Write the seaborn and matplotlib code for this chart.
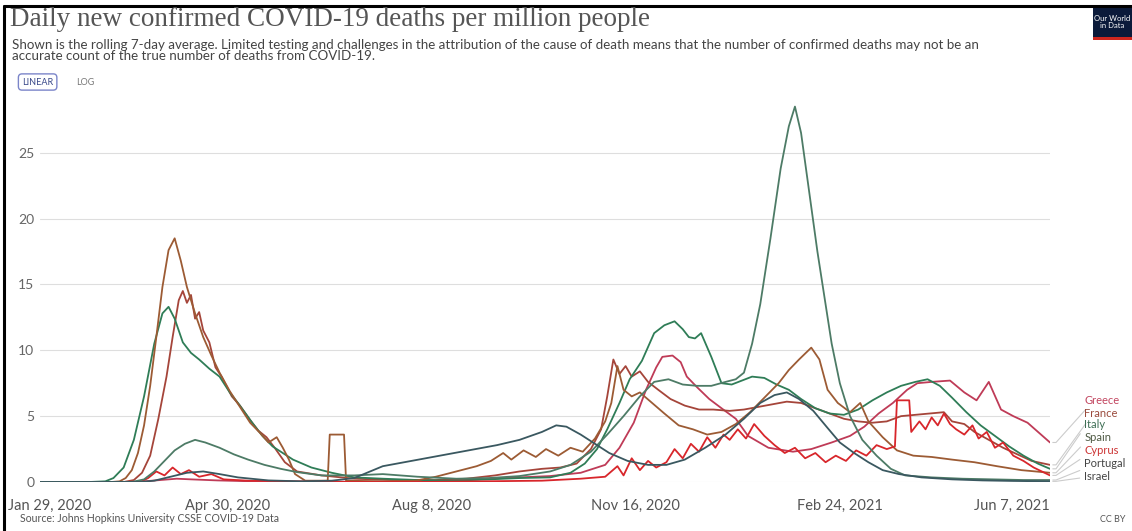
import pandas as pd
import seaborn as sns
import matplotlib.pyplot as plt
from matplotlib.lines import Line2D
from matplotlib.patches import Rectangle
from matplotlib.transforms import ScaledTranslation

# --- data: 7-day rolling average, daily new confirmed deaths per million ---
italy_dates = ["2020-01-29", "2020-02-22", "2020-03-01", "2020-03-05", "2020-03-10", "2020-03-15",
               "2020-03-20", "2020-03-25", "2020-03-29", "2020-04-01", "2020-04-04", "2020-04-08",
               "2020-04-12", "2020-04-16", "2020-04-21", "2020-04-26", "2020-05-01", "2020-05-05",
               "2020-05-12", "2020-05-17", "2020-05-22", "2020-06-01", "2020-06-10", "2020-06-20",
               "2020-07-01", "2020-07-15", "2020-08-01", "2020-08-20", "2020-09-05", "2020-09-20",
               "2020-10-05", "2020-10-15", "2020-10-22", "2020-10-28", "2020-11-02", "2020-11-08",
               "2020-11-13", "2020-11-19", "2020-11-25", "2020-11-30", "2020-12-05", "2020-12-09",
               "2020-12-12", "2020-12-15", "2020-12-18", "2020-12-23", "2020-12-28", "2021-01-02",
               "2021-01-07", "2021-01-12", "2021-01-18", "2021-01-24", "2021-01-30", "2021-02-05",
               "2021-02-12", "2021-02-19", "2021-02-26", "2021-03-05", "2021-03-12", "2021-03-19",
               "2021-03-26", "2021-04-02", "2021-04-08", "2021-04-14", "2021-04-20", "2021-04-27",
               "2021-05-04", "2021-05-11", "2021-05-18", "2021-05-25", "2021-06-01", "2021-06-07"]
italy_vals = [0, 0, 0.05, 0.3, 1.1, 3.2,
              6.5, 10.5, 12.8, 13.3, 12.4, 10.6,
              9.8, 9.3, 8.6, 8.0, 6.8, 6.0,
              4.5, 3.5, 2.7, 1.7, 1.1, 0.7,
              0.35, 0.25, 0.15, 0.1, 0.2, 0.3,
              0.35, 0.7, 1.4, 2.5, 4.0, 6.0,
              7.8, 9.2, 11.3, 11.9, 12.2, 11.6,
              11.0, 10.9, 11.3, 9.5, 7.5, 7.4,
              7.7, 8.0, 7.9, 7.4, 7.0, 6.3,
              5.6, 5.2, 5.1, 5.5, 6.2, 6.8,
              7.3, 7.6, 7.8, 7.3, 6.4, 5.3,
              4.3, 3.5, 2.7, 2.0, 1.4, 1.0]

portugal_dates = ["2020-01-29", "2020-03-14", "2020-03-20", "2020-03-25", "2020-03-30", "2020-04-04",
                  "2020-04-09", "2020-04-14", "2020-04-19", "2020-04-26", "2020-05-03", "2020-05-10",
                  "2020-05-18", "2020-05-26", "2020-06-03", "2020-06-15", "2020-07-01", "2020-07-15",
                  "2020-08-01", "2020-08-20", "2020-09-05", "2020-09-20", "2020-10-05", "2020-10-15",
                  "2020-10-25", "2020-11-02", "2020-11-10", "2020-11-18", "2020-11-25", "2020-12-02",
                  "2020-12-09", "2020-12-16", "2020-12-23", "2020-12-30", "2021-01-04", "2021-01-08",
                  "2021-01-12", "2021-01-16", "2021-01-21", "2021-01-26", "2021-01-30", "2021-02-02",
                  "2021-02-05", "2021-02-09", "2021-02-13", "2021-02-16", "2021-02-20", "2021-02-24",
                  "2021-03-01", "2021-03-07", "2021-03-14", "2021-03-21", "2021-03-28", "2021-04-10",
                  "2021-04-25", "2021-05-10", "2021-05-25", "2021-06-07"]
portugal_vals = [0, 0, 0.2, 0.8, 1.6, 2.4,
                 2.9, 3.2, 3.0, 2.6, 2.1, 1.7,
                 1.3, 1.0, 0.75, 0.5, 0.5, 0.6,
                 0.4, 0.25, 0.3, 0.45, 0.8, 1.3,
                 2.3, 3.6, 5.0, 6.5, 7.6, 7.8,
                 7.4, 7.3, 7.3, 7.6, 7.8, 8.3,
                 10.5, 13.5, 18.5, 23.8, 27.0, 28.5,
                 26.5, 22.0, 17.5, 14.5, 10.5, 7.5,
                 5.0, 3.2, 2.0, 1.0, 0.5, 0.35,
                 0.25, 0.2, 0.15, 0.15]

spain_dates = ["2020-01-29", "2020-03-04", "2020-03-08", "2020-03-11", "2020-03-14", "2020-03-17",
               "2020-03-20", "2020-03-23", "2020-03-26", "2020-03-29", "2020-04-01", "2020-04-04",
               "2020-04-07", "2020-04-10", "2020-04-14", "2020-04-18", "2020-04-22", "2020-04-26",
               "2020-05-01", "2020-05-06", "2020-05-11", "2020-05-16", "2020-05-20", "2020-05-24",
               "2020-05-27", "2020-05-30", "2020-06-02", "2020-06-07", "2020-06-18", "2020-06-19",
               "2020-06-26", "2020-06-27", "2020-07-15", "2020-07-31", "2020-08-10", "2020-08-20",
               "2020-08-30", "2020-09-06", "2020-09-12", "2020-09-16", "2020-09-22", "2020-09-28",
               "2020-10-03", "2020-10-09", "2020-10-15", "2020-10-21", "2020-10-27", "2020-11-01",
               "2020-11-04", "2020-11-07", "2020-11-10", "2020-11-14", "2020-11-18", "2020-11-24",
               "2020-11-30", "2020-12-07", "2020-12-14", "2020-12-21", "2020-12-28", "2021-01-04",
               "2021-01-11", "2021-01-18", "2021-01-25", "2021-01-30", "2021-02-04", "2021-02-10",
               "2021-02-14", "2021-02-18", "2021-02-23", "2021-03-01", "2021-03-06", "2021-03-10",
               "2021-03-17", "2021-03-24", "2021-04-01", "2021-04-10", "2021-04-20", "2021-05-01",
               "2021-05-12", "2021-05-24", "2021-06-07"]
spain_vals = [0, 0, 0.05, 0.3, 0.9, 2.2,
              4.3, 7.3, 11.0, 14.8, 17.6, 18.5,
              16.8, 14.8, 12.8, 11.0, 9.6, 8.3,
              6.9, 5.7, 4.5, 3.7, 3.0, 3.4,
              2.6, 1.7, 0.6, 0.1, 0.1, 3.6,
              3.6, 0.1, 0.05, 0.1, 0.4, 0.8,
              1.2, 1.6, 2.2, 1.7, 2.4, 1.9,
              2.5, 2.0, 2.6, 2.3, 3.3, 4.6,
              6.0, 8.8, 7.0, 6.5, 6.8, 6.0,
              5.2, 4.3, 4.0, 3.6, 3.8, 4.4,
              5.3, 6.4, 7.5, 8.5, 9.3, 10.2,
              9.3, 7.0, 6.0, 5.3, 6.0, 4.6,
              3.4, 2.4, 2.0, 1.9, 1.7, 1.5,
              1.2, 0.9, 0.7]

france_dates = ["2020-01-29", "2020-03-10", "2020-03-15", "2020-03-19", "2020-03-23", "2020-03-27",
                "2020-03-31", "2020-04-03", "2020-04-06", "2020-04-08", "2020-04-10", "2020-04-12",
                "2020-04-14", "2020-04-16", "2020-04-18", "2020-04-21", "2020-04-24", "2020-04-27",
                "2020-05-02", "2020-05-06", "2020-05-11", "2020-05-15", "2020-05-19", "2020-05-23",
                "2020-05-28", "2020-06-03", "2020-06-15", "2020-07-01", "2020-07-20", "2020-08-10",
                "2020-08-25", "2020-09-08", "2020-09-20", "2020-10-01", "2020-10-10", "2020-10-18",
                "2020-10-25", "2020-10-30", "2020-11-02", "2020-11-05", "2020-11-08", "2020-11-11",
                "2020-11-14", "2020-11-18", "2020-11-22", "2020-11-27", "2020-12-03", "2020-12-10",
                "2020-12-17", "2020-12-24", "2021-01-01", "2021-01-08", "2021-01-15", "2021-01-22",
                "2021-01-29", "2021-02-05", "2021-02-12", "2021-02-19", "2021-02-26", "2021-03-05",
                "2021-03-12", "2021-03-19", "2021-03-26", "2021-04-02", "2021-04-09", "2021-04-16",
                "2021-04-20", "2021-04-26", "2021-05-01", "2021-05-08", "2021-05-15", "2021-05-22",
                "2021-05-29", "2021-06-07"]
france_vals = [0, 0, 0.15, 0.7, 2.0, 4.8,
               8.0, 11.0, 13.8, 14.5, 13.6, 14.2,
               12.4, 12.9, 11.5, 10.6, 8.7, 8.0,
               6.5, 5.8, 4.7, 3.9, 3.4, 2.6,
               1.5, 0.8, 0.5, 0.25, 0.15, 0.15,
               0.25, 0.5, 0.8, 1.0, 1.1, 1.4,
               2.5, 4.0, 6.5, 9.3, 8.2, 8.8,
               8.0, 8.4, 7.6, 7.0, 6.3, 5.8,
               5.5, 5.5, 5.4, 5.5, 5.7, 5.9,
               6.1, 6.0, 5.6, 5.2, 4.8, 4.6,
               4.5, 4.6, 5.0, 5.1, 5.2, 5.3,
               4.6, 4.4, 3.8, 3.2, 2.6, 2.1,
               1.6, 1.3]

greece_dates = ["2020-01-29", "2020-03-12", "2020-03-20", "2020-03-28", "2020-04-05", "2020-04-12",
                "2020-04-25", "2020-05-10", "2020-06-01", "2020-07-01", "2020-08-01", "2020-08-20",
                "2020-09-05", "2020-09-20", "2020-10-05", "2020-10-20", "2020-11-01", "2020-11-08",
                "2020-11-15", "2020-11-21", "2020-11-26", "2020-11-29", "2020-12-04", "2020-12-08",
                "2020-12-11", "2020-12-16", "2020-12-22", "2020-12-28", "2021-01-04", "2021-01-10",
                "2021-01-20", "2021-02-01", "2021-02-10", "2021-02-20", "2021-03-01", "2021-03-08",
                "2021-03-15", "2021-03-22", "2021-03-29", "2021-04-03", "2021-04-10", "2021-04-19",
                "2021-04-26", "2021-05-02", "2021-05-08", "2021-05-14", "2021-05-20", "2021-05-27",
                "2021-06-07"]
greece_vals = [0, 0, 0.05, 0.15, 0.25, 0.2,
               0.12, 0.06, 0.03, 0.02, 0.03, 0.12,
               0.25, 0.35, 0.45, 0.7, 1.3, 2.6,
               4.5, 7.0, 8.7, 9.5, 9.6, 9.1,
               8.0, 7.2, 6.3, 5.6, 4.8, 3.5,
               2.6, 2.3, 2.5, 3.0, 3.5, 4.2,
               5.2, 6.0, 7.0, 7.5, 7.6, 7.7,
               6.8, 6.2, 7.6, 5.5, 5.0, 4.5,
               3.0]

cyprus_dates = ["2020-01-29", "2020-03-18", "2020-03-22", "2020-03-26", "2020-03-30", "2020-04-03",
                "2020-04-07", "2020-04-11", "2020-04-16", "2020-04-22", "2020-04-28", "2020-05-10",
                "2020-06-01", "2020-07-01", "2020-08-01", "2020-09-01", "2020-10-01", "2020-10-20",
                "2020-11-01", "2020-11-07", "2020-11-10", "2020-11-14", "2020-11-18", "2020-11-22",
                "2020-11-26", "2020-12-01", "2020-12-05", "2020-12-09", "2020-12-13", "2020-12-17",
                "2020-12-21", "2020-12-25", "2020-12-29", "2021-01-01", "2021-01-05", "2021-01-09",
                "2021-01-13", "2021-01-18", "2021-01-23", "2021-01-28", "2021-02-02", "2021-02-07",
                "2021-02-12", "2021-02-17", "2021-02-22", "2021-02-27", "2021-03-04", "2021-03-09",
                "2021-03-14", "2021-03-19", "2021-03-23", "2021-03-24", "2021-03-30", "2021-03-31",
                "2021-04-04", "2021-04-07", "2021-04-10", "2021-04-13", "2021-04-16", "2021-04-19",
                "2021-04-22", "2021-04-26", "2021-04-30", "2021-05-03", "2021-05-07", "2021-05-11",
                "2021-05-15", "2021-05-20", "2021-05-25", "2021-05-30", "2021-06-03", "2021-06-07"]
cyprus_vals = [0, 0, 0.3, 0.8, 0.5, 1.1,
               0.6, 0.9, 0.4, 0.6, 0.2, 0.1,
               0.05, 0, 0, 0.05, 0.1, 0.25,
               0.4, 1.2, 0.5, 1.8, 0.9, 1.6,
               1.1, 1.5, 2.5, 1.8, 2.9, 2.3,
               3.4, 2.6, 3.6, 3.2, 4.0, 3.3,
               4.4, 3.5, 2.8, 2.2, 2.6, 1.8,
               2.2, 1.5, 2.0, 1.6, 2.4, 2.0,
               2.8, 2.5, 2.7, 6.2, 6.2, 3.8,
               4.6, 4.0, 4.9, 4.3, 5.2, 4.4,
               4.0, 3.6, 4.3, 3.3, 3.8, 2.6,
               3.0, 2.0, 1.6, 1.1, 0.8, 0.5]

israel_dates = ["2020-01-29", "2020-03-18", "2020-03-25", "2020-04-02", "2020-04-10", "2020-04-18",
                "2020-04-26", "2020-05-05", "2020-05-20", "2020-06-05", "2020-06-20", "2020-07-01",
                "2020-07-15", "2020-07-29", "2020-08-12", "2020-08-26", "2020-09-09", "2020-09-20",
                "2020-10-01", "2020-10-08", "2020-10-13", "2020-10-20", "2020-10-27", "2020-11-03",
                "2020-11-12", "2020-11-22", "2020-12-01", "2020-12-10", "2020-12-20", "2020-12-30",
                "2021-01-08", "2021-01-16", "2021-01-23", "2021-01-29", "2021-02-04", "2021-02-11",
                "2021-02-18", "2021-02-24", "2021-03-03", "2021-03-10", "2021-03-17", "2021-03-25",
                "2021-04-05", "2021-04-20", "2021-05-05", "2021-05-20", "2021-06-07"]
israel_vals = [0, 0, 0.1, 0.4, 0.7, 0.8,
               0.6, 0.35, 0.12, 0.05, 0.1, 0.3,
               1.2, 1.6, 2.0, 2.4, 2.8, 3.2,
               3.8, 4.3, 4.2, 3.6, 2.9, 2.2,
               1.6, 1.3, 1.3, 1.7, 2.6, 3.6,
               4.8, 6.0, 6.6, 6.8, 6.3, 5.4,
               4.1, 3.0, 2.2, 1.5, 0.9, 0.6,
               0.35, 0.2, 0.12, 0.08, 0.05]

countries = ["Greece", "France", "Italy", "Spain", "Cyprus", "Portugal", "Israel"]
colors = {"Greece": "#bf3b57", "France": "#a5453a", "Italy": "#2f7d57", "Spain": "#9c5b34",
          "Cyprus": "#d8262b", "Portugal": "#4d7b66", "Israel": "#3a5860"}
label_colors = {"Greece": "#c2455f", "France": "#9a4a3c", "Italy": "#3f6f55", "Spain": "#4f5a44",
                "Cyprus": "#cc3333", "Portugal": "#444444", "Israel": "#444444"}

tick_dates = ["2020-01-29", "2020-04-30", "2020-08-08", "2020-11-16", "2021-02-24", "2021-06-07"]
tick_labels = ["Jan 29, 2020", "Apr 30, 2020", "Aug 8, 2020", "Nov 16, 2020", "Feb 24, 2021", "Jun 7, 2021"]
y_ticks = [0, 5, 10, 15, 20, 25]

# long table for seaborn
series = {"Greece": (greece_dates, greece_vals), "France": (france_dates, france_vals),
          "Italy": (italy_dates, italy_vals), "Spain": (spain_dates, spain_vals),
          "Cyprus": (cyprus_dates, cyprus_vals), "Portugal": (portugal_dates, portugal_vals),
          "Israel": (israel_dates, israel_vals)}
frames = []
for name, (d, v) in series.items():
    frames.append(pd.DataFrame({"date": pd.to_datetime(d), "deaths": v, "country": name}))
df = pd.concat(frames, ignore_index=True)

sns.set_theme(style="white")
plt.rcParams["font.family"] = ["Lato", "DejaVu Sans"]

W, H = 1132, 531
fig = plt.figure(figsize=(W / 100, H / 100), dpi=100)
ax = fig.add_axes([40 / W, 49 / H, 1010 / W, 382 / H])

sns.lineplot(data=df, x="date", y="deaths", hue="country", hue_order=countries,
             palette=colors, linewidth=1.3, legend=False, estimator=None, ax=ax)

ax.set_xlim(pd.Timestamp(tick_dates[0]), pd.Timestamp(tick_dates[-1]))
ax.set_ylim(0, 29)
ax.set_yticks(y_ticks)
ax.set_yticklabels([str(t) for t in y_ticks])
ax.set_xticks(pd.to_datetime(tick_dates))
ax.set_xticklabels(tick_labels)
ax.set_xlabel("")
ax.set_ylabel("")
ax.grid(axis="y", color="#dedede", linewidth=0.8)
ax.set_axisbelow(True)
for s in ax.spines.values():
    s.set_visible(False)
ax.tick_params(axis="y", length=0, pad=4, labelsize=10, labelcolor="#666666")
ax.tick_params(axis="x", length=0, pad=12, labelsize=10.5, labelcolor="#555555")
xl = ax.get_xticklabels()
xl[0].set_transform(xl[0].get_transform() + ScaledTranslation(7 / 72, 0, fig.dpi_scale_trans))
xl[-1].set_ha("right")

# end labels with connectors
label_y = [6.2, 5.2, 4.4, 3.4, 2.4, 1.4, 0.4]
for name, ly in zip(countries, label_y):
    d, v = series[name]
    ax.annotate(name, xy=(pd.Timestamp(d[-1]), v[-1]), xycoords="data",
                xytext=(1.034, ly), textcoords=("axes fraction", "data"),
                fontsize=8, color=label_colors[name], va="center", ha="left",
                annotation_clip=False,
                arrowprops=dict(arrowstyle="-", color="#cccccc", lw=0.8, shrinkA=1, shrinkB=2,
                                connectionstyle="arc,angleA=180,angleB=0,armA=8,armB=6,rad=0"))

# header
fig.text(10 / W, 1 - 20 / H, "Daily new confirmed COVID-19 deaths per million people",
         family="Liberation Serif", fontsize=19.5, color="#555555", va="center")
fig.text(12 / W, 1 - 45 / H,
         "Shown is the rolling 7-day average. Limited testing and challenges in the attribution of the cause "
         "of death means that the number of confirmed deaths may not be an",
         fontsize=9.6, color="#444444", va="center")
fig.text(12 / W, 1 - 56 / H, "accurate count of the true number of deaths from COVID-19.",
         fontsize=9.6, color="#444444", va="center")
fig.text(22 / W, 1 - 82 / H, "LINEAR", fontsize=6.5, color="#3b4a8a", va="center",
         bbox=dict(boxstyle="round,pad=0.4", fc="white", ec="#7b85c9", lw=1))
fig.text(76 / W, 1 - 82 / H, "LOG", fontsize=6.5, color="#777777", va="center")

# logo
fig.add_artist(Rectangle((1093 / W, 1 - 38 / H), 45 / W, 31 / H, transform=fig.transFigure,
                         facecolor="#0b1a3a", edgecolor="none"))
fig.add_artist(Rectangle((1093 / W, 1 - 40 / H), 45 / W, 3 / H, transform=fig.transFigure,
                         facecolor="#ce261e", edgecolor="none"))
fig.text(1112 / W, 1 - 22 / H, "Our World\nin Data", fontsize=5.5, color="white",
         ha="center", va="center", linespacing=1.0)

# footer
fig.text(20 / W, 12 / H, "Source: Johns Hopkins University CSSE COVID-19 Data",
         fontsize=7.6, color="#555555", va="center")
fig.text(1100 / W, 12 / H, "CC BY", fontsize=6.5, color="#555555", va="center")

# screenshot frame
fig.add_artist(Line2D([4 / W, 4 / W], [0, 1 - 6 / H], color="black", lw=2.2, transform=fig.transFigure))
fig.add_artist(Line2D([4 / W, 1], [1 - 6 / H, 1 - 6 / H], color="black", lw=2.2, transform=fig.transFigure))

fig.savefig("out.png", dpi=100)
